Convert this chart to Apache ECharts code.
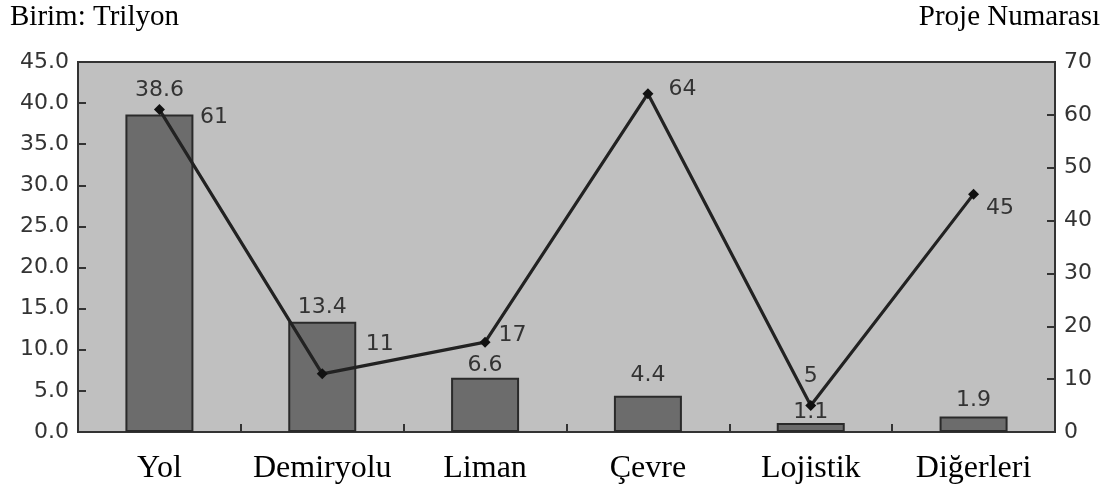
<!DOCTYPE html>
<html>
<head>
<meta charset="utf-8">
<script src="https://cdn.jsdelivr.net/npm/echarts@6/dist/echarts.min.js"></script>
<style>
  html, body { margin: 0; padding: 0; background: #fff; }
  #chart { width: 1107px; height: 495px; }
</style>
</head>
<body>
<div id="chart"></div>
<script>
// kategoriler ve değerler
var categories = ['Yol', 'Demiryolu', 'Liman', 'Çevre', 'Lojistik', 'Diğerleri']
var amountTrillion = [38.6, 13.4, 6.6, 4.4, 1.1, 1.9]   // Birim: Trilyon (bar)
var projectCount = [61, 11, 17, 64, 5, 45]               // Proje Numarası (line)

// label placement tweaks (layout only)
var barLabelGap = [13, 4, 1, 10, 0, 5]
var lineLabelPos = [
  { position: 'right', offset: [30, 8] },
  { position: 'right', offset: [33, -30] },
  { position: 'right', offset: [3, -7] },
  { position: 'right', offset: [10, -4] },
  { position: 'top', offset: [0, -8] },
  { position: 'right', offset: [2, 14] }
]

var numFont = 'DejaVu Sans'
var serif = '"Liberation Serif", "Times New Roman", serif'

var chart = echarts.init(document.getElementById('chart'), null, { renderer: 'canvas' })

var option = {
  animation: false,
  backgroundColor: '#ffffff',
  title: [
    { text: 'Birim: Trilyon', left: 5, top: -2, textStyle: { fontFamily: serif, fontSize: 29, fontWeight: 'normal', color: '#000' } },
    { text: 'Proje Numarası', right: 2, top: -2, textStyle: { fontFamily: serif, fontSize: 29, fontWeight: 'normal', color: '#000' } }
  ],
  grid: {
    left: 78, right: 52, top: 62, bottom: 63,
    show: true, backgroundColor: '#c0c0c0', borderColor: '#333', borderWidth: 2
  },
  xAxis: {
    type: 'category',
    data: categories,
    boundaryGap: true,
    axisLine: { lineStyle: { color: '#333', width: 2 } },
    axisTick: { show: true, inside: true, length: 8, interval: 0, lineStyle: { color: '#333', width: 2 } },
    axisLabel: { fontFamily: serif, fontSize: 32, color: '#000', margin: 21, interval: 0 }
  },
  yAxis: [
    {
      type: 'value', min: 0, max: 45, interval: 5,
      splitLine: { show: false },
      axisLine: { show: true, lineStyle: { color: '#333', width: 2 } },
      axisTick: { show: true, inside: true, length: 8, lineStyle: { color: '#333', width: 2 } },
      axisLabel: { fontFamily: numFont, fontSize: 22, color: '#333', margin: 9,
        formatter: function (v) { return v.toFixed(1) } }
    },
    {
      type: 'value', min: 0, max: 70, interval: 10,
      splitLine: { show: false },
      axisLine: { show: true, lineStyle: { color: '#333', width: 2 } },
      axisTick: { show: true, inside: true, length: 8, lineStyle: { color: '#333', width: 2 } },
      axisLabel: { fontFamily: numFont, fontSize: 22, color: '#333', margin: 9 }
    }
  ],
  series: [
    {
      name: 'Birim: Trilyon',
      type: 'bar',
      yAxisIndex: 0,
      barWidth: 68,
      itemStyle: { color: '#6c6c6c', borderColor: '#2a2a2a', borderWidth: 2 },
      label: { show: true, position: 'top', fontFamily: numFont, fontSize: 22, color: '#333' },
      data: amountTrillion.map(function (v, i) {
        return { value: v, label: { distance: barLabelGap[i] } }
      })
    },
    {
      name: 'Proje Numarası',
      type: 'line',
      yAxisIndex: 1,
      symbol: 'diamond',
      symbolSize: 11,
      lineStyle: { color: '#222', width: 3.2 },
      itemStyle: { color: '#111' },
      label: { show: true, fontFamily: numFont, fontSize: 22, color: '#333', distance: 5 },
      z: 5,
      data: projectCount.map(function (v, i) {
        return { value: v, label: lineLabelPos[i] }
      })
    }
  ]
}

chart.setOption(option)
</script>
</body>
</html>
